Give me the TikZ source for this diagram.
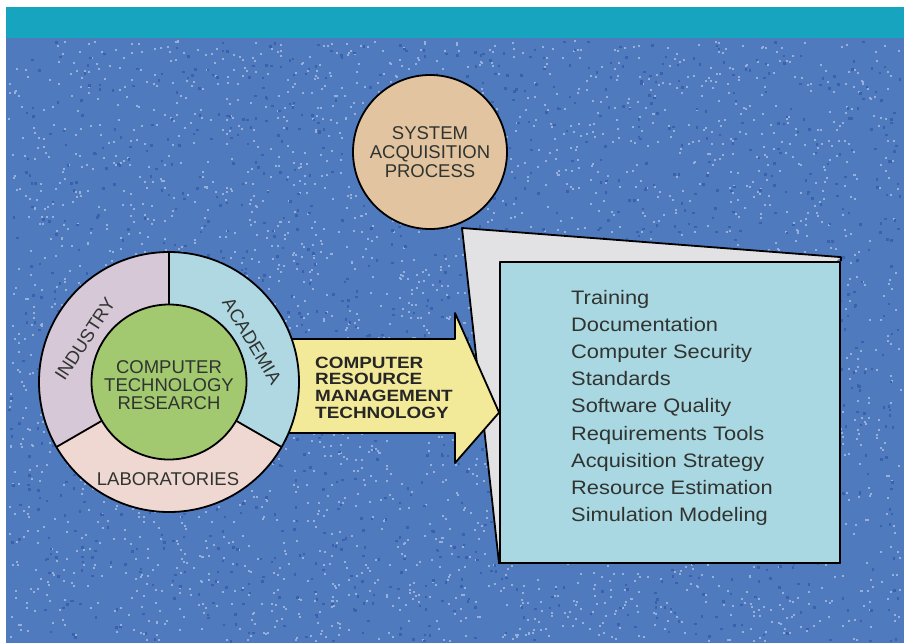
\documentclass[tikz,border=0pt]{standalone}
\usepackage{fontspec}
\setmainfont{Liberation Sans}
\newfontfamily\widefont[FakeStretch=1.12]{Liberation Sans}
\newfontfamily\arrowfont[FakeStretch=1.16]{Liberation Sans}
\definecolor{bgblue}{RGB}{80,122,190}
\definecolor{bgspeck}{RGB}{150,176,218}
\definecolor{bgdark}{RGB}{58,98,172}
\definecolor{band}{RGB}{22,164,190}
\definecolor{sapcol}{RGB}{226,196,160}
\definecolor{indcol}{RGB}{214,200,214}
\definecolor{acacol}{RGB}{176,216,226}
\definecolor{labcol}{RGB}{240,216,210}
\definecolor{corecol}{RGB}{162,200,112}
\definecolor{arrowcol}{RGB}{242,234,152}
\definecolor{boxcol}{RGB}{170,216,226}
\definecolor{graycol}{RGB}{226,226,228}
\definecolor{inkcol}{RGB}{48,52,48}
\tikzset{
  outline/.style={draw=black, line width=1.8pt, line join=round},
  ringlabel/.style={text=inkcol, font=\fontsize{18.5}{18}\selectfont, inner sep=0pt},
  itemtext/.style={text=inkcol, font=\widefont\fontsize{19.5}{27}\selectfont, inner sep=0pt, anchor=base west},
}
\begin{document}
\begin{tikzpicture}[x=1pt,y=-1pt]
\useasboundingbox (0,0) rectangle (904,643);
\fill[white] (0,0) rectangle (904,643);
\fill[bgblue] (6,38) rectangle (904,643);
\fill[band] (6,7) rectangle (904,38);
% speckled texture of the background
\pgfmathsetseed{7}
\foreach \i in {1,...,3200}{
  \pgfmathsetmacro{\px}{8+892*rnd}
  \pgfmathsetmacro{\py}{40+600*rnd}
  \fill[bgspeck] (\px,\py) rectangle ++(2,2);
}
\foreach \i in {1,...,1500}{
  \pgfmathsetmacro{\px}{8+892*rnd}
  \pgfmathsetmacro{\py}{40+600*rnd}
  \fill[bgdark] (\px,\py) rectangle ++(2.5,2.5);
}
% box and callout
\coordinate (callout) at (462,228);
\node[outline, fill=boxcol, minimum width=340pt, minimum height=301pt, inner sep=0pt] (box) at (670,412.5) {};
\fill[graycol] (callout) -- ([yshift=4pt]box.north east) -- (box.south west) -- cycle;
\draw[outline] (box.south west) -- (callout) -- ([yshift=4pt]box.north east) -- (box.north east);
\node[outline, fill=boxcol, minimum width=340pt, minimum height=301pt, inner sep=0pt] (box) at (670,412.5) {};
\foreach \t [count=\i] in {Training,Documentation,Computer Security,Standards,Software Quality,Requirements Tools,Acquisition Strategy,Resource Estimation,Simulation Modeling}{
  \node[itemtext, name=item\i] at (571,{304+27.2*(\i-1)}) {\t};
}
% arrow
\coordinate (c) at (169,382);
\draw[outline, fill=arrowcol] (285,339) -- (455,339) -- (455,313) -- (box.west) -- (455,463) -- (455,433) -- (285,433) -- cycle;
\node[text=black!85, font=\arrowfont\bfseries\fontsize{16.3}{16.7}\selectfont, align=left, inner sep=0pt, anchor=north west] (crmt) at (315,356.5) {COMPUTER\\RESOURCE\\MANAGEMENT\\TECHNOLOGY};
% ring
\begin{scope}
  \clip (c) circle (130pt);
  \fill[labcol] (c) circle (130pt);
  \fill[indcol] (c) -- ([shift={(150:200)}]c) -- ([shift={(210:300)}]c) -- ([shift={(270:200)}]c) -- cycle;
  \fill[acacol] (c) -- ([shift={(270:200)}]c) -- ([shift={(330:300)}]c) -- ([shift={(30:200)}]c) -- cycle;
\end{scope}
\foreach \a in {30,150,270}{
  \draw[outline] ([shift={(\a:77)}]c) -- ([shift={(\a:130)}]c);
}
\node[outline, circle, minimum size=260pt, inner sep=0pt] (ring) at (c) {};
\node[outline, circle, fill=corecol, minimum size=155pt, inner sep=0pt] (core) at (c) {};
\node[ringlabel, align=center] (ctr) at (169,385) {COMPUTER\\TECHNOLOGY\\RESEARCH};
\node[ringlabel, rotate=57] (industry) at (85,339) {INDUSTRY};
\node[ringlabel, rotate=-59] (academia) at (252,341) {ACADEMIA};
\node[ringlabel, anchor=base] (labs) at (168,485) {LABORATORIES};
% system acquisition process
\node[outline, circle, fill=sapcol, minimum size=154pt, inner sep=0pt, text=inkcol, align=center, font=\fontsize{18.5}{19}\selectfont] (sap) at (430,152) {SYSTEM\\ACQUISITION\\PROCESS};
\end{tikzpicture}
\end{document}
